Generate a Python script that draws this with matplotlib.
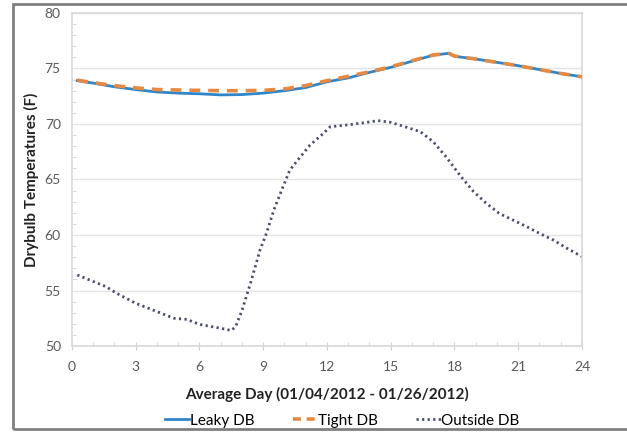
import matplotlib
matplotlib.use("Agg")
import matplotlib.pyplot as plt
from matplotlib.patches import Rectangle
from matplotlib.ticker import MultipleLocator

plt.rcParams['font.family'] = ['Lato', 'DejaVu Sans']

# hour of the average day
db_hours = [0.25, 1, 2, 3, 4, 5, 6, 7, 8, 9, 10, 11, 12, 13, 14, 15, 16, 17,
            17.75, 18, 19, 20, 21, 22, 23, 24]
leaky_db = [73.9, 73.68, 73.35, 73.1, 72.88, 72.78, 72.72, 72.62, 72.65, 72.78,
            73.0, 73.28, 73.8, 74.15, 74.65, 75.1, 75.65, 76.2,
            76.37, 76.1, 75.85, 75.55, 75.25, 74.9, 74.55, 74.25]
tight_db = [73.95, 73.72, 73.46, 73.25, 73.1, 73.06, 73.03, 73.0, 73.0, 73.03,
            73.15, 73.46, 73.9, 74.3, 74.7, 75.15, 75.7, 76.22,
            76.35, 76.12, 75.85, 75.55, 75.25, 74.9, 74.55, 74.25]

out_hours = [0.25, 1.6, 2.1, 3, 4, 4.8, 5.4, 6, 7, 7.5, 7.7, 8, 8.4, 8.85, 9.15,
             9.5, 9.9, 10.25, 10.75, 11.2, 11.8, 12.15, 12.9, 13.7, 14.4, 15,
             15.75, 16.4, 17, 17.6, 18.25, 18.9, 19.5, 20.1, 20.75, 21.4, 22,
             22.65, 23.3, 24]
outside_db = [56.4, 55.35, 54.75, 53.85, 53.1, 52.5, 52.4, 51.95, 51.6, 51.4,
              51.75, 53.2, 55.65, 58.65, 60.15, 62.25, 64.2, 65.85, 67.05,
              68.1, 69.1, 69.75, 69.9, 70.1, 70.3, 70.15, 69.7, 69.3, 68.4,
              67.05, 65.4, 63.9, 62.85, 61.95, 61.35, 60.75, 60.15, 59.55,
              58.8, 58.05]

fig = plt.figure(figsize=(6.27, 4.32), dpi=100)
ax = fig.add_axes([0.1148, 0.199, 0.8134, 0.771])

ax.plot(db_hours, leaky_db, color='#2E86C8', lw=2.0, label='Leaky DB', zorder=3)
ax.plot(db_hours, tight_db, color='#E8893F', lw=2.6, ls=(0, (3, 2.2)),
        label='Tight DB', zorder=4)
ax.plot(out_hours, outside_db, color='#4A5068', lw=2.0, ls=(0, (0.8, 1.2)),
        label='Outside DB', zorder=2)

ax.set_xlim(0, 24)
ax.set_ylim(50, 80)
ax.xaxis.set_major_locator(MultipleLocator(3))
ax.xaxis.set_minor_locator(MultipleLocator(1))
ax.yaxis.set_major_locator(MultipleLocator(5))
ax.yaxis.set_minor_locator(MultipleLocator(1))
ax.tick_params(which='major', direction='inout', length=6, color='#D0D0D0',
               labelsize=10, labelcolor='#595959', pad=8)
ax.tick_params(which='minor', direction='in', length=3, color='#D0D0D0')
ax.tick_params(axis='y', which='major', direction='in', length=0, pad=8)
ax.tick_params(axis='y', which='minor', length=3)

ax.grid(axis='y', which='major', color='#E4E4E4', lw=1.0)
ax.set_axisbelow(True)
for s in ax.spines.values():
    s.set_color('#D9D9D9')
    s.set_linewidth(1.2)

ax.set_xlabel('Average Day (01/04/2012 - 01/26/2012)', fontsize=11,
              fontweight='bold', color='#222222', labelpad=10)
ax.set_ylabel('Drybulb Temperatures (F)', fontsize=11, fontweight='bold',
              color='#222222', labelpad=4)

leg = fig.legend(loc='center', bbox_to_anchor=(0.546, 0.026), ncol=3, frameon=False,
                 fontsize=11, handlelength=1.6, handletextpad=0.05, columnspacing=2.5)
# shorter dashes in the legend key so two of them fit
leg.get_lines()[1].set_linestyle((0, (2.2, 1.6)))

# outer frame around the chart
fig.patches.append(Rectangle((0.0207, 0.006), 1.1, 0.984, transform=fig.transFigure,
                             fill=False, edgecolor='#808080', lw=2.0))

fig.savefig('out.png', dpi=100)
